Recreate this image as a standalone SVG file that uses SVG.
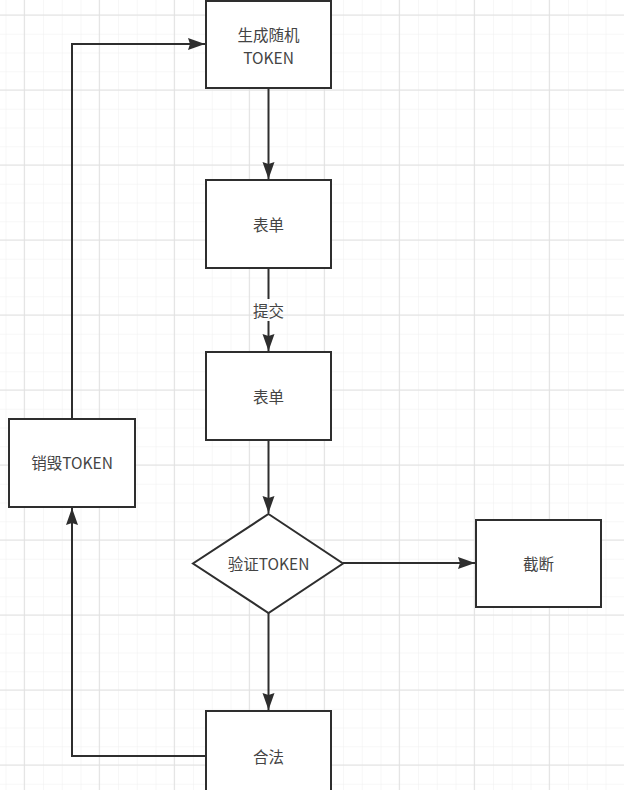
<svg xmlns="http://www.w3.org/2000/svg" width="624" height="790" viewBox="0 0 624 790">
<style>
.box{fill:#fff;stroke:#2e2e2e;stroke-width:2}
.ln{fill:none;stroke:#2e2e2e;stroke-width:2}
.t{font-family:"Noto Sans CJK SC","Noto Sans",sans-serif;font-size:15.5px;fill:#444;text-anchor:middle;dominant-baseline:central}
</style>
<defs>
<pattern id="minor" width="18.75" height="18.75" patternUnits="userSpaceOnUse" x="5.55" y="15">
<path d="M0 0H18.75M0 0V18.75" fill="none" stroke="#efefef" stroke-width="1"/>
</pattern>
<marker id="arr" markerWidth="18" markerHeight="13" refX="17" refY="6.5" orient="auto" markerUnits="userSpaceOnUse">
<path d="M17 6.5L0 0.5L2 6.5L0 12.5Z" fill="#2e2e2e"/>
</marker>
</defs>
<rect width="624" height="790" fill="#fff"/>
<rect width="624" height="790" fill="url(#minor)"/>
<g fill="none" stroke="#e0e0e0" stroke-width="1">
<path d="M24.3 0V790M99.3 0V790M174.3 0V790M249.3 0V790M324.3 0V790M399.3 0V790M474.3 0V790M549.3 0V790"/>
<path d="M0 15H624M0 90H624M0 165H624M0 240H624M0 315H624M0 390H624M0 465H624M0 540H624M0 615H624M0 690H624M0 765H624"/>
</g>
<g id="connectors">
<path class="ln" d="M268.5 88V179" marker-end="url(#arr)"/>
<path class="ln" d="M268.5 268V299M268.5 321V351" marker-end="url(#arr)"/>
<path class="ln" d="M268.5 440V513" marker-end="url(#arr)"/>
<path class="ln" d="M268.5 613V710" marker-end="url(#arr)"/>
<path class="ln" d="M343 563H475" marker-end="url(#arr)"/>
<path class="ln" d="M206 756H72V508" marker-end="url(#arr)"/>
<path class="ln" d="M72 418V44H205" marker-end="url(#arr)"/>
<text class="t" x="268.5" y="310">提交</text>
</g>
<g id="gen">
<rect class="box" x="206" y="1" width="125" height="87"/>
<text class="t" x="268.5" y="34">生成随机</text>
<text class="t" x="268.5" y="57">TOKEN</text>
</g>
<g id="form1">
<rect class="box" x="206" y="180" width="125" height="88"/>
<text class="t" x="268.5" y="224">表单</text>
</g>
<g id="form2">
<rect class="box" x="206" y="352" width="125" height="88"/>
<text class="t" x="268.5" y="396">表单</text>
</g>
<g id="verify">
<path class="box" d="M268.5 514L343 563.5L268.5 613L193 563.5Z"/>
<text class="t" x="268.5" y="563">验证TOKEN</text>
</g>
<g id="cut">
<rect class="box" x="476" y="520" width="125" height="87"/>
<text class="t" x="538.5" y="563">截断</text>
</g>
<g id="destroy">
<rect class="box" x="9" y="419" width="126" height="88"/>
<text class="t" x="72" y="462">销毁TOKEN</text>
</g>
<g id="legal">
<rect class="box" x="206" y="711" width="125" height="90"/>
<text class="t" x="268.5" y="756">合法</text>
</g>
</svg>
